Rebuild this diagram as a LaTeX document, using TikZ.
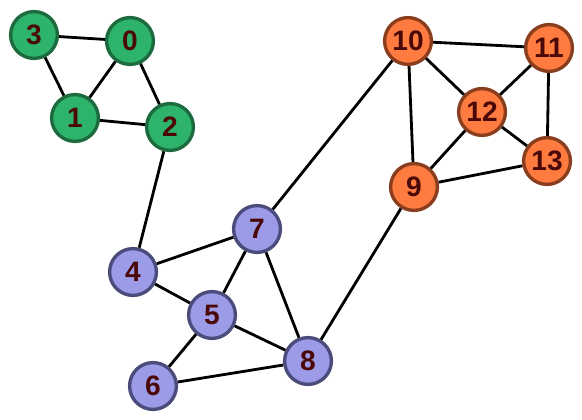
\documentclass[tikz,border=0pt]{standalone}
\usepackage{fontspec}
\setsansfont{Liberation Sans}
\usepackage{xcolor}
\usepackage{tikz}
\usetikzlibrary{positioning}
\definecolor{grass}{HTML}{2DB36C}
\definecolor{grassline}{HTML}{1C6B3E}
\definecolor{tangerine}{HTML}{FF7B40}
\definecolor{tangerineline}{HTML}{8A3E1E}
\definecolor{lilac}{HTML}{9B9BE8}
\definecolor{lilacline}{HTML}{4C4C7C}
\definecolor{digit}{HTML}{4A0808}

\begin{document}
\begin{tikzpicture}[
  x=0.025cm, y=-0.025cm,
  every node/.style={font=\sffamily\bfseries\fontsize{20}{22}\selectfont,text=digit},
  vtx/.style={circle,line width=2.4pt,minimum size=1.17cm,inner sep=0pt},
  grp a/.style={vtx,draw=grassline,fill=grass},
  grp b/.style={vtx,draw=tangerineline,fill=tangerine},
  grp c/.style={vtx,draw=lilacline,fill=lilac},
  edge/.style={draw=black,line width=2pt}
]
\useasboundingbox (0,0) rectangle (582,419);
% green group
\node[grp a] (n3) at (34,35) {3};
\node[grp a] (n0) at (130,41) {0};
\node[grp a] (n1) at (75,118) {1};
\node[grp a] (n2) at (170,127) {2};
% orange group
\node[grp b] (n10) at (408,41) {10};
\node[grp b] (n11) at (549,48) {11};
\node[grp b] (n12) at (482,112) {12};
\node[grp b] (n13) at (547,161) {13};
\node[grp b] (n9) at (414,187) {9};
% purple group
\node[grp c] (n7) at (257,229) {7};
\node[grp c] (n4) at (133,272) {4};
\node[grp c] (n5) at (212,315) {5};
\node[grp c] (n8) at (308,361) {8};
\node[grp c] (n6) at (153,386) {6};
% edges
\draw[edge] (n3)--(n0); \draw[edge] (n3)--(n1); \draw[edge] (n0)--(n1);
\draw[edge] (n0)--(n2); \draw[edge] (n1)--(n2); \draw[edge] (n2)--(n4);
\draw[edge] (n4)--(n7); \draw[edge] (n4)--(n5); \draw[edge] (n7)--(n5);
\draw[edge] (n7)--(n8); \draw[edge] (n5)--(n8); \draw[edge] (n5)--(n6);
\draw[edge] (n6)--(n8); \draw[edge] (n7)--(n10); \draw[edge] (n8)--(n9);
\draw[edge] (n10)--(n11); \draw[edge] (n10)--(n12); \draw[edge] (n10)--(n9);
\draw[edge] (n11)--(n12); \draw[edge] (n11)--(n13); \draw[edge] (n12)--(n13);
\draw[edge] (n12)--(n9); \draw[edge] (n9)--(n13);
\end{tikzpicture}
\end{document}
